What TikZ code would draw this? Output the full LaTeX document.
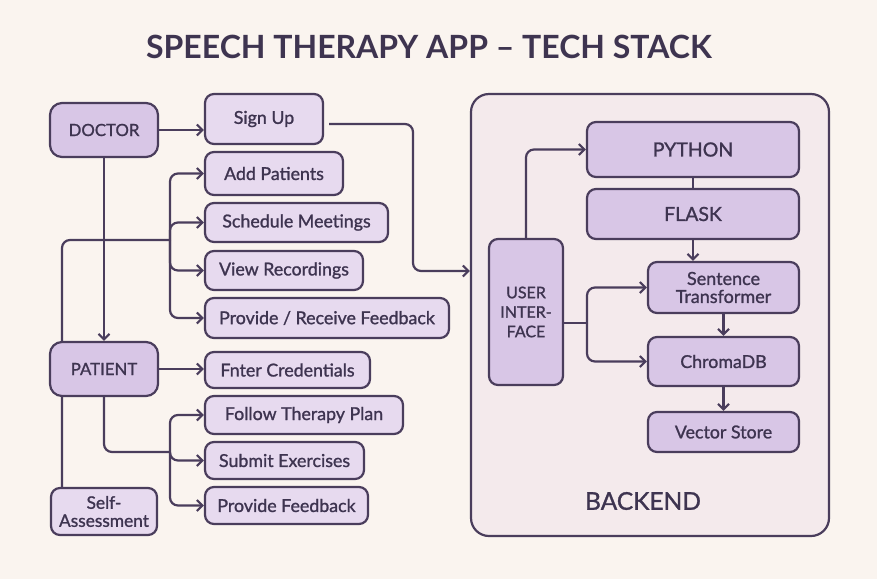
\documentclass[tikz,border=0pt]{standalone}
\usepackage{fontspec}
\setmainfont{Lato}
\newfontfamily\medfont{Lato}[RawFeature={embolden=1.2}]
\usetikzlibrary{arrows.meta,calc}
\definecolor{bg}{HTML}{FAF4EF}
\definecolor{ink}{HTML}{4A3D5C}
\definecolor{txt}{HTML}{3E3450}
\definecolor{dark}{HTML}{D8C6E6}
\definecolor{light}{HTML}{E7DAEF}
\definecolor{panel}{HTML}{F4EAEC}
\tikzset{
  box/.style={draw=ink,line width=2.2pt,rounded corners=9pt,text=txt,align=center,inner sep=0pt,font=\medfont\fontsize{17.8}{19}\selectfont},
  mainbox/.style={box,fill=dark,rounded corners=12pt,font=\medfont\fontsize{16.8}{19}\selectfont},
  actbox/.style={box,fill=light},
  techbox/.style={box,fill=dark,rounded corners=9pt},
  conn/.style={draw=ink,line width=2.2pt,rounded corners=8pt},
  arr/.style={conn,-{Straight Barb[length=5.5pt,width=11pt,line width=2.1pt]}},
}
\begin{document}
\begin{tikzpicture}[x=1pt,y=-1pt]
\fill[bg] (0,0) rectangle (877,579);
\useasboundingbox (0,0) rectangle (877,579);

\node[text=txt,font=\fontsize{32}{36}\bfseries] (title) at (429,47) {SPEECH THERAPY APP – TECH STACK};

% backend panel
\node[draw=ink,line width=2.2pt,fill=panel,rounded corners=18pt,minimum width=358pt,minimum height=442pt] (backend) at (650,315) {};
\node[text=txt,font=\medfont\fontsize{24.5}{27}\selectfont] (backendlbl) at (643,501) {BACKEND};

\coordinate (dbus) at (170,240);
\coordinate (pbus) at (170,452);
\coordinate (lcorner) at (62,240);
\coordinate (uibus) at (587,323);

% self-assessment and the line running behind PATIENT
\node[actbox,minimum width=106pt,minimum height=47pt,font=\medfont\fontsize{17.3}{19}\selectfont] (self) at (104,511.5) {Self-\\[-1pt]Assessment};
\draw[conn] (self.north -| lcorner) -- (lcorner) -- (dbus);

% left user nodes
\node[mainbox,minimum width=108pt,minimum height=54pt] (doctor) at (104,130) {DOCTOR};
\node[mainbox,minimum width=108pt,minimum height=54pt] (patient) at (104,369) {PATIENT};

\node[actbox,minimum width=118pt,minimum height=50pt] (signup) at (264,119) {Sign Up};
\node[actbox,minimum width=138pt,minimum height=43pt] (addp) at (274,173.5) {Add Patients};
\node[actbox,minimum width=183pt,minimum height=39pt] (sched) at (296.5,222.5) {Schedule Meetings};
\node[actbox,minimum width=158pt,minimum height=39pt] (viewr) at (284,270.5) {View Recordings};
\node[actbox,minimum width=244pt,minimum height=40pt] (prf) at (327,318) {Provide / Receive Feedback};

\node[actbox,minimum width=165pt,minimum height=36pt] (enter) at (287.5,370) {Fnter Credentials};
\node[actbox,minimum width=198pt,minimum height=38pt] (follow) at (304,415) {Follow Therapy Plan};
\node[actbox,minimum width=159pt,minimum height=37pt] (submit) at (284.5,460.5) {Submit Exercises};
\node[actbox,minimum width=163pt,minimum height=37pt] (pfeed) at (286.5,505.5) {Provide Feedback};

% backend nodes
\node[techbox,minimum width=212pt,minimum height=55pt,font=\medfont\fontsize{19.5}{21}\selectfont] (python) at (693,149.5) {PYTHON};
\node[techbox,minimum width=212pt,minimum height=50pt,font=\medfont\fontsize{19.5}{21}\selectfont] (flask) at (693,214) {FLASK};
\node[techbox,minimum width=151pt,minimum height=51pt,font=\medfont\fontsize{18}{19}\selectfont] (st) at (723.5,287.5) {Sentence\\[-1pt]Transformer};
\node[techbox,minimum width=151pt,minimum height=49pt] (chroma) at (723.5,361.5) {ChromaDB};
\node[techbox,minimum width=151pt,minimum height=40pt] (vector) at (723.5,432) {Vector Store};
\node[techbox,minimum width=74pt,minimum height=146pt,font=\medfont\fontsize{16}{19.5}\selectfont] (ui) at (526,312) {USER\\INTER-\\FACE};

% doctor connectors
\draw[arr] (doctor.east) -- (doctor.east -| signup.west);
\draw[arr] ($(signup.east)+(5,5)$) -- (413,124) -- (413,271) -- (backend.west |- 0,271);
\draw[arr] (doctor.south) -- (patient.north);
\draw[arr] (dbus) |- (addp.west);
\draw[arr] (dbus) |- (sched.west);
\draw[arr] (dbus) |- (viewr.west);
\draw[arr] (dbus) |- (prf.west);

% patient connectors
\draw[arr] (patient.east) -- (patient.east -| enter.west);
\draw[conn] (patient.south) |- (pbus);
\draw[arr] (pbus) |- (follow.west);
\draw[arr] (pbus) |- (submit.west);
\draw[arr] (pbus) |- (pfeed.west);

% backend connectors
\draw[arr] (ui.north) |- (python.west);
\draw[conn] (python.south) -- (flask.north);
\draw[arr] (flask.south) -- (flask.south |- st.north);
\draw[conn] (ui.east |- uibus) -- (uibus);
\draw[arr] (uibus) |- (st.west);
\draw[arr] (uibus) |- (chroma.west);
\draw[arr] (st.south) -- (chroma.north);
\draw[arr] (chroma.south) -- (vector.north);
\end{tikzpicture}
\end{document}
